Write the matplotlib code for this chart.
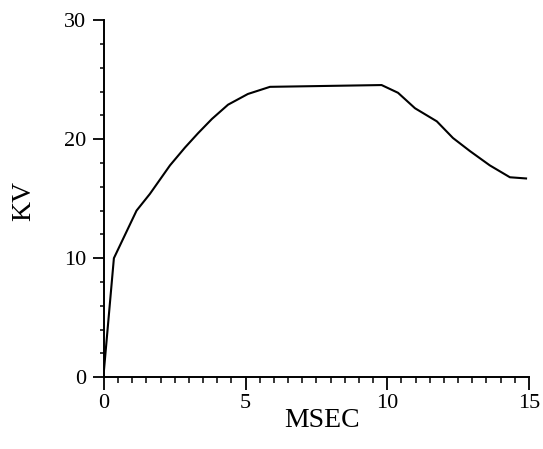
import matplotlib
matplotlib.use("Agg")
import matplotlib.pyplot as plt
from matplotlib.ticker import MultipleLocator

# ---------- Data ----------
msec = [0.0, 0.35, 1.15, 1.62, 2.33, 2.86, 3.32, 3.81, 4.38, 5.08, 5.86,
        9.8, 10.38, 10.98, 11.75, 12.32, 12.92, 13.62, 14.33, 14.9]
kv = [0.6, 10.0, 14.0, 15.4, 17.8, 19.3, 20.5, 21.7, 22.9, 23.8, 24.4,
      24.55, 23.9, 22.6, 21.5, 20.1, 19.0, 17.8, 16.8, 16.7]

x_ticks = [0, 5, 10, 15]
y_ticks = [0, 10, 20, 30]

# ---------- Plot ----------
plt.rcParams['font.family'] = ['Liberation Serif', 'DejaVu Serif']
fig = plt.figure(figsize=(5.43, 4.49), dpi=100)
ax = fig.add_axes([0.1915, 0.160, 0.7825, 0.795])

ax.plot(msec, kv, color='black', linewidth=1.5)

ax.set_xlim(0, 15)
ax.set_ylim(0, 30)
ax.set_xticks(x_ticks)
ax.set_yticks(y_ticks)
ax.xaxis.set_minor_locator(MultipleLocator(0.5))
ax.yaxis.set_minor_locator(MultipleLocator(2))

for side in ['top', 'right']:
    ax.spines[side].set_visible(False)
for side in ['left', 'bottom']:
    ax.spines[side].set_linewidth(1.4)

ax.tick_params(axis='x', which='major', direction='out', length=9, width=1.3, labelsize=16, pad=3)
ax.tick_params(axis='x', which='minor', direction='out', length=4, width=1.1)
ax.tick_params(axis='y', which='major', direction='out', length=8, width=1.3, labelsize=16, pad=5)
ax.tick_params(axis='y', which='minor', direction='out', length=3, width=1.1)

ax.set_xlabel("MSEC", fontsize=20)
ax.set_ylabel("KV", fontsize=20)
ax.xaxis.set_label_coords(0.513, -0.085)
ax.yaxis.set_label_coords(-0.16, 0.493)

fig.savefig("out.png", dpi=100)
